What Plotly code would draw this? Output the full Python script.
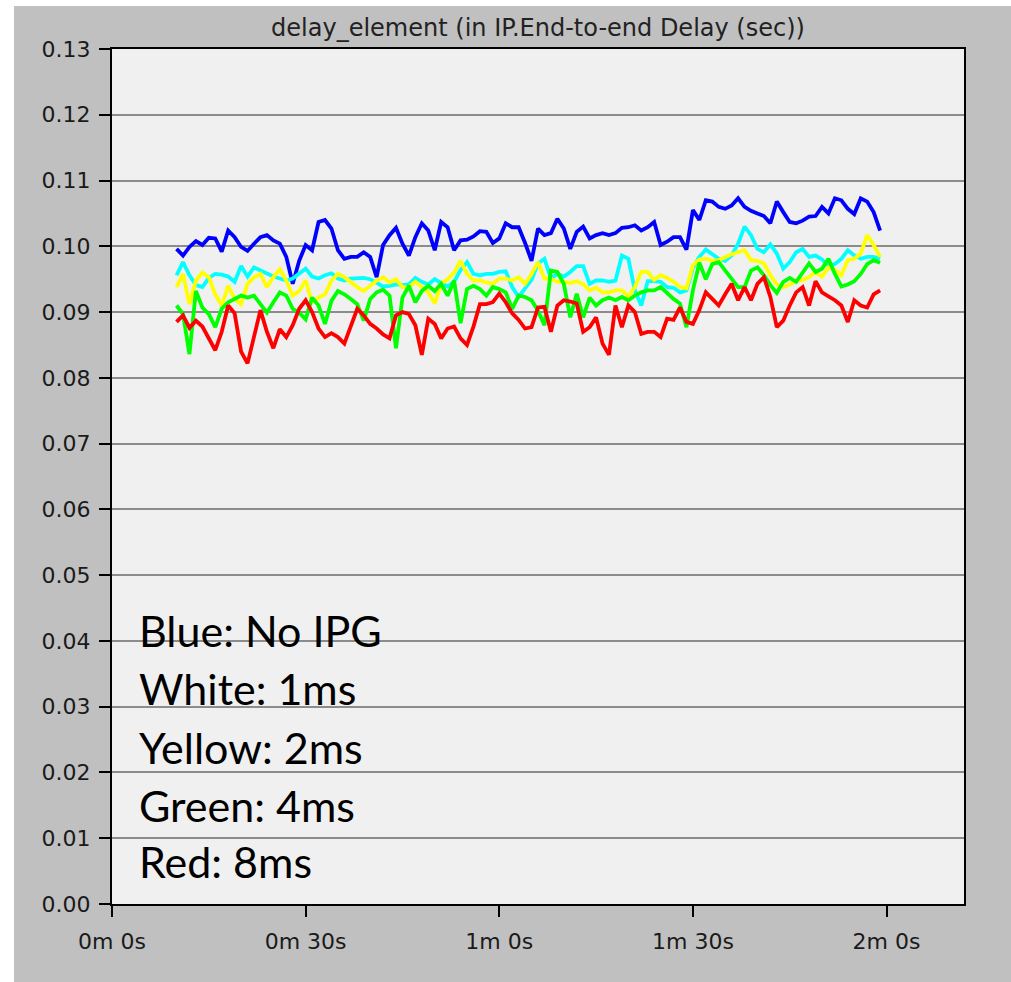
import plotly.graph_objects as go

# ---------------- data ----------------
times = list(range(10, 120))  # seconds

blue_no_ipg = [
    0.0996, 0.0986, 0.0999, 0.1008, 0.1002, 0.1013, 0.1012, 0.0992, 0.1024, 0.1014,
    0.0999, 0.0993, 0.1004, 0.1014, 0.1017, 0.1009, 0.1004, 0.0984, 0.0943, 0.0978,
    0.1002, 0.0994, 0.1037, 0.1040, 0.1027, 0.0994, 0.0981, 0.0984, 0.0984, 0.0991,
    0.0984, 0.0953, 0.1002, 0.1017, 0.1028, 0.1004, 0.0986, 0.1014, 0.1035, 0.1024,
    0.0994, 0.1037, 0.1029, 0.0994, 0.1009, 0.1010, 0.1015, 0.1023, 0.1022, 0.1005,
    0.1012, 0.1035, 0.1029, 0.1029, 0.1005, 0.0978, 0.1027, 0.1017, 0.1020, 0.1042,
    0.1027, 0.0996, 0.1022, 0.1030, 0.1012, 0.1017, 0.1020, 0.1017, 0.1020, 0.1028,
    0.1029, 0.1032, 0.1024, 0.1029, 0.1037, 0.1002, 0.1007, 0.1014, 0.1014, 0.0995,
    0.1055, 0.1040, 0.1070, 0.1068, 0.1060, 0.1057, 0.1062, 0.1073, 0.1060, 0.1054,
    0.1050, 0.1046, 0.1035, 0.1068, 0.1052, 0.1037, 0.1035, 0.1039, 0.1045, 0.1046,
    0.1060, 0.1050, 0.1073, 0.1070, 0.1057, 0.1049, 0.1073, 0.1068, 0.1052, 0.1024,
]

white_1ms = [
    0.0956, 0.0976, 0.0956, 0.0941, 0.0938, 0.0952, 0.0958, 0.0957, 0.0954, 0.0946,
    0.0970, 0.0954, 0.0968, 0.0963, 0.0958, 0.0954, 0.0951, 0.0948, 0.0951, 0.0959,
    0.0966, 0.0954, 0.0951, 0.0956, 0.0959, 0.0951, 0.0948, 0.0951, 0.0952, 0.0952,
    0.0950, 0.0944, 0.0939, 0.0940, 0.0942, 0.0941, 0.0942, 0.0952, 0.0946, 0.0942,
    0.0950, 0.0944, 0.0939, 0.0946, 0.0964, 0.0976, 0.0958, 0.0956, 0.0958, 0.0958,
    0.0961, 0.0962, 0.0938, 0.0923, 0.0935, 0.0949, 0.0974, 0.0981, 0.0951, 0.0958,
    0.0954, 0.0961, 0.0970, 0.0970, 0.0943, 0.0948, 0.0948, 0.0946, 0.0948, 0.0986,
    0.0981, 0.0933, 0.0910, 0.0947, 0.0947, 0.0946, 0.0938, 0.0937, 0.0930, 0.0933,
    0.0967, 0.0984, 0.0995, 0.0988, 0.0981, 0.0978, 0.0986, 0.1004, 0.1030, 0.1017,
    0.0996, 0.0991, 0.1003, 0.0989, 0.0966, 0.0976, 0.0991, 0.0996, 0.0984, 0.0986,
    0.0980, 0.0971, 0.0973, 0.0981, 0.0994, 0.0986, 0.0981, 0.0984, 0.0984, 0.0981,
]

yellow_2ms = [
    0.0938, 0.0958, 0.0912, 0.0948, 0.0960, 0.0953, 0.0927, 0.0910, 0.0940, 0.0920,
    0.0912, 0.0943, 0.0953, 0.0958, 0.0938, 0.0953, 0.0965, 0.0948, 0.0925, 0.0932,
    0.0948, 0.0915, 0.0922, 0.0927, 0.0948, 0.0958, 0.0953, 0.0945, 0.0938, 0.0932,
    0.0940, 0.0948, 0.0953, 0.0945, 0.0950, 0.0938, 0.0938, 0.0946, 0.0938, 0.0930,
    0.0913, 0.0943, 0.0950, 0.0960, 0.0978, 0.0958, 0.0948, 0.0948, 0.0945, 0.0943,
    0.0951, 0.0951, 0.0948, 0.0953, 0.0943, 0.0958, 0.0976, 0.0951, 0.0951, 0.0946,
    0.0946, 0.0944, 0.0947, 0.0942, 0.0933, 0.0937, 0.0930, 0.0930, 0.0933, 0.0933,
    0.0924, 0.0938, 0.0961, 0.0961, 0.0949, 0.0956, 0.0952, 0.0946, 0.0938, 0.0936,
    0.0971, 0.0980, 0.0981, 0.0978, 0.0979, 0.0984, 0.0988, 0.0991, 0.0994, 0.0979,
    0.0978, 0.0974, 0.0956, 0.0942, 0.0938, 0.0942, 0.0947, 0.0949, 0.0953, 0.0961,
    0.0954, 0.0968, 0.0964, 0.0956, 0.0979, 0.0981, 0.0989, 0.1017, 0.1002, 0.0984,
]

green_4ms = [
    0.0910, 0.0897, 0.0836, 0.0932, 0.0907, 0.0897, 0.0877, 0.0905, 0.0915, 0.0920,
    0.0925, 0.0922, 0.0925, 0.0912, 0.0899, 0.0915, 0.0930, 0.0925, 0.0905, 0.0899,
    0.0889, 0.0922, 0.0910, 0.0882, 0.0917, 0.0932, 0.0927, 0.0920, 0.0912, 0.0887,
    0.0920, 0.0930, 0.0934, 0.0925, 0.0845, 0.0922, 0.0940, 0.0915, 0.0932, 0.0940,
    0.0932, 0.0943, 0.0925, 0.0948, 0.0883, 0.0935, 0.0940, 0.0935, 0.0925, 0.0938,
    0.0935, 0.0930, 0.0905, 0.0925, 0.0923, 0.0918, 0.0902, 0.0880, 0.0963, 0.0961,
    0.0943, 0.0892, 0.0928, 0.0892, 0.0922, 0.0910, 0.0918, 0.0922, 0.0918, 0.0923,
    0.0918, 0.0925, 0.0930, 0.0933, 0.0933, 0.0938, 0.0929, 0.0920, 0.0913, 0.0877,
    0.0933, 0.0975, 0.0950, 0.0973, 0.0976, 0.0963, 0.0951, 0.0938, 0.0938, 0.0963,
    0.0968, 0.0956, 0.0941, 0.0929, 0.0946, 0.0952, 0.0946, 0.0959, 0.0974, 0.0961,
    0.0966, 0.0981, 0.0958, 0.0939, 0.0942, 0.0947, 0.0958, 0.0973, 0.0979, 0.0975,
]

red_8ms = [
    0.0885, 0.0895, 0.0876, 0.0887, 0.0878, 0.0860, 0.0842, 0.0870, 0.0910, 0.0898,
    0.0840, 0.0822, 0.0865, 0.0903, 0.0870, 0.0845, 0.0874, 0.0862, 0.0880, 0.0905,
    0.0918, 0.0900, 0.0875, 0.0862, 0.0868, 0.0862, 0.0852, 0.0878, 0.0905, 0.0895,
    0.0882, 0.0875, 0.0866, 0.0860, 0.0895, 0.0900, 0.0897, 0.0880, 0.0835, 0.0890,
    0.0882, 0.0860, 0.0875, 0.0878, 0.0860, 0.0850, 0.0878, 0.0912, 0.0912, 0.0915,
    0.0928, 0.0915, 0.0898, 0.0888, 0.0875, 0.0877, 0.0907, 0.0908, 0.0870, 0.0910,
    0.0918, 0.0916, 0.0913, 0.0870, 0.0877, 0.0892, 0.0852, 0.0835, 0.0910, 0.0877,
    0.0910, 0.0900, 0.0867, 0.0870, 0.0870, 0.0862, 0.0890, 0.0888, 0.0907, 0.0885,
    0.0882, 0.0903, 0.0930, 0.0920, 0.0910, 0.0927, 0.0943, 0.0918, 0.0938, 0.0918,
    0.0943, 0.0953, 0.0923, 0.0877, 0.0887, 0.0910, 0.0930, 0.0938, 0.0910, 0.0947,
    0.0930, 0.0924, 0.0918, 0.0910, 0.0885, 0.0918, 0.0910, 0.0907, 0.0927, 0.0933,
]

series_names = ["Blue: No IPG", "White: 1ms", "Yellow: 2ms", "Green: 4ms", "Red: 8ms"]
series_values = [blue_no_ipg, white_1ms, yellow_2ms, green_4ms, red_8ms]
series_colors = ["#0000ff", "#00ffff", "#ffff00", "#00ff00", "#ff0000"]

x_tick_vals = [0, 30, 60, 90, 120]
x_tick_text = ["0m 0s", "0m 30s", "1m 0s", "1m 30s", "2m 0s"]
y_tick_vals = [i / 100 for i in range(14)]
y_tick_text = ["%.2f" % v for v in y_tick_vals]

title_text = "delay_element (in IP.End-to-end Delay (sec))"

# ---------------- figure ----------------
W, H = 1011, 982
ML, MR, MT, MB = 112, 47, 49, 78
pw, ph = W - ML - MR, H - MT - MB

fig = go.Figure()
for name, vals, col in zip(series_names, series_values, series_colors):
    fig.add_trace(go.Scatter(x=times, y=vals, mode="lines", name=name,
                             line=dict(color=col, width=3.8)))

def px_x(px):
    return (px - ML) / pw

def px_y(py):
    return (H - MB - py) / ph

shapes = [
    # grey window panel (white strip at top/left)
    dict(type="rect", xref="paper", yref="paper", layer="below",
         x0=px_x(14), x1=px_x(W + 20), y0=px_y(H + 20), y1=px_y(6),
         fillcolor="#c0c0c0", line=dict(width=0)),
    # plot area background
    dict(type="rect", xref="paper", yref="paper", layer="below",
         x0=0, x1=1, y0=0, y1=1, fillcolor="#f0f0f0", line=dict(width=0)),
]

legend_centers_px = [630, 688, 747, 805, 861]
annotations = []
for txt, cy in zip(series_names, legend_centers_px):
    annotations.append(dict(
        text=txt, xref="paper", yref="paper", x=px_x(137), y=px_y(cy),
        xanchor="left", yanchor="middle", showarrow=False,
        font=dict(family="Lato", size=43, color="#000000")))

tickfont = dict(family="DejaVu Sans", size=22, color="#1a1a1a")

fig.update_layout(
    width=W, height=H,
    margin=dict(l=ML, r=MR, t=MT, b=MB, pad=0),
    paper_bgcolor="#ffffff",
    plot_bgcolor="#f0f0f0",
    showlegend=False,
    title=dict(text=title_text, x=0.5, xref="paper", y=1 - 28 / H, yref="container",
               xanchor="center", yanchor="middle",
               font=dict(family="DejaVu Sans", size=24, color="#222222")),
    shapes=shapes,
    annotations=annotations,
    xaxis=dict(range=[0, 132], tickvals=x_tick_vals, ticktext=x_tick_text,
               showgrid=False, zeroline=False,
               showline=True, linecolor="#000000", linewidth=2, mirror=True,
               ticks="outside", ticklen=11, tickwidth=2, tickcolor="#000000",
               tickfont=tickfont, ticklabelstandoff=6),
    yaxis=dict(range=[0, 0.13], tickvals=y_tick_vals, ticktext=y_tick_text,
               showgrid=True, gridcolor="#8c8c8c", gridwidth=1.6, zeroline=False,
               showline=True, linecolor="#000000", linewidth=2, mirror=True,
               ticks="outside", ticklen=11, tickwidth=2, tickcolor="#000000",
               tickfont=tickfont, ticklabelstandoff=4),
)

fig.write_html("out.html")
